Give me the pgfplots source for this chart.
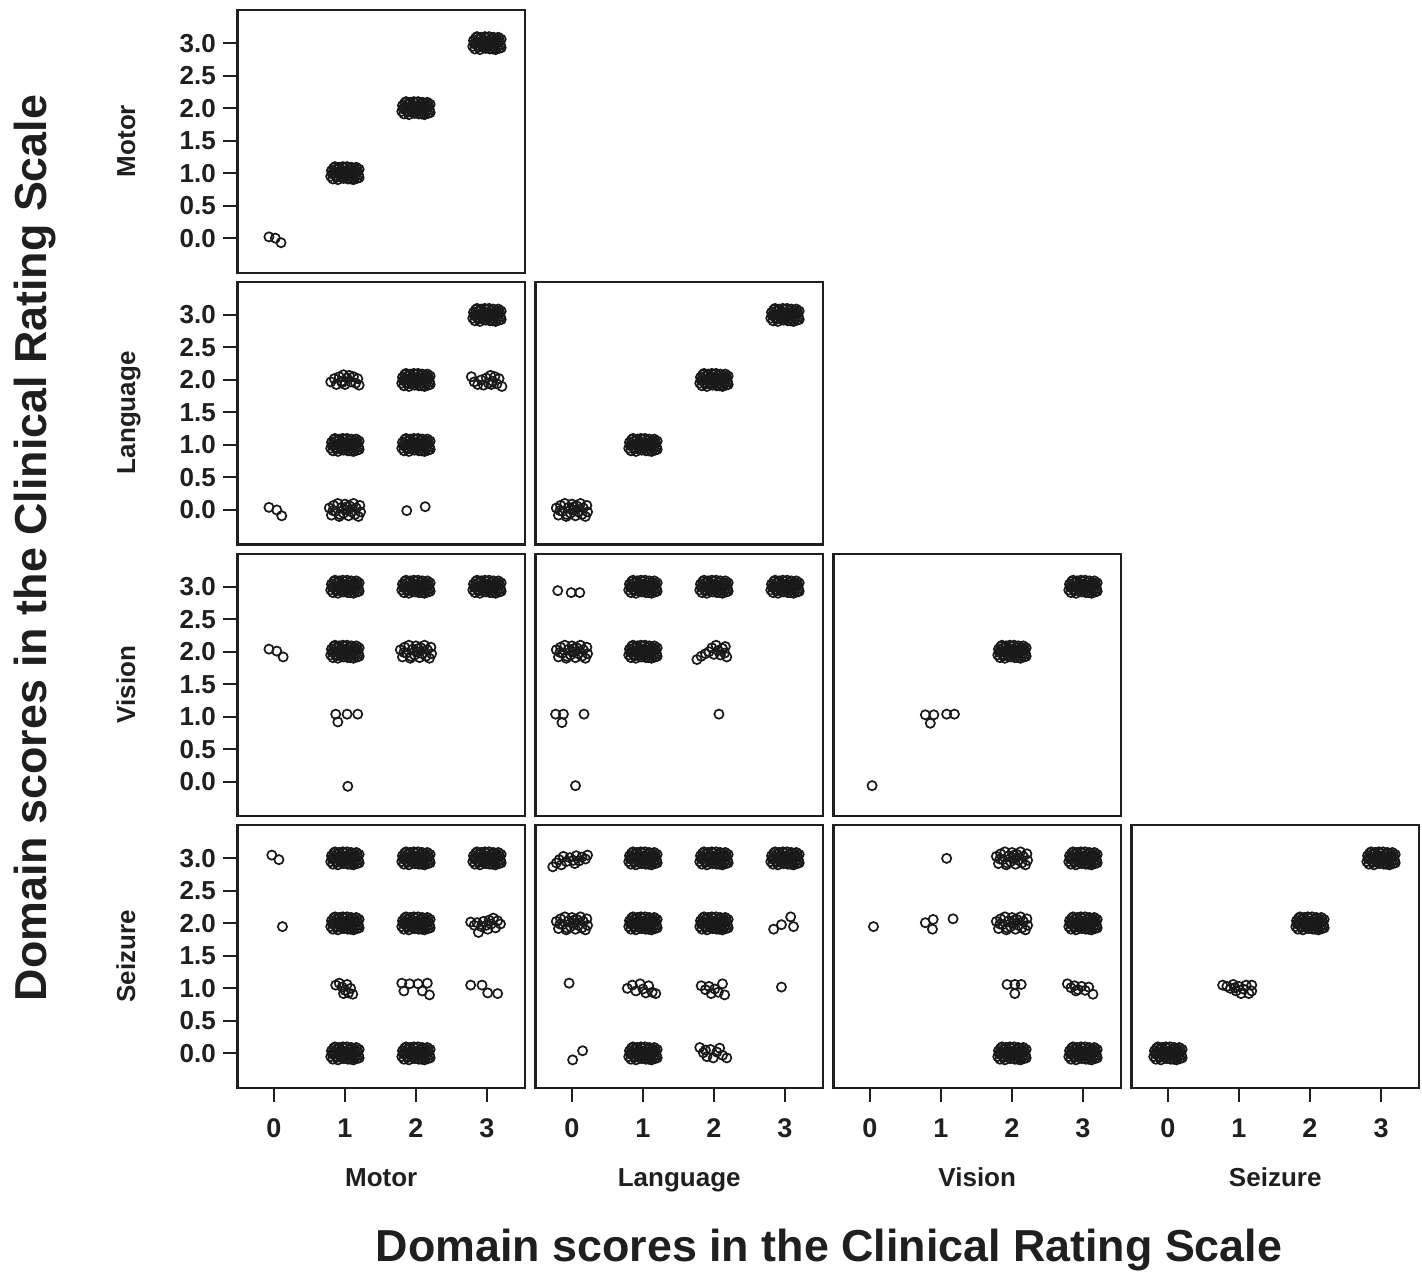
\documentclass[border=0pt]{standalone}
\usepackage{fontspec}
\setmainfont{Liberation Sans}
\usepackage{pgfplots}
\usepackage{pgfplotstable}
\pgfplotsset{compat=1.18}

% hand-typed jitter offsets for dense clusters (dx, dy in score units)
\pgfplotstableread{
dx dy
-0.20 -0.05
-0.19 0.04
-0.17 -0.09
-0.16 0.08
-0.15 0.00
-0.13 -0.04
-0.12 0.06
-0.10 -0.10
-0.09 0.02
-0.08 0.09
-0.06 -0.06
-0.05 0.05
-0.04 -0.01
-0.02 -0.08
-0.01 0.08
0.00 0.03
0.01 -0.04
0.03 0.10
0.04 -0.09
0.05 0.01
0.06 0.06
0.07 -0.05
0.09 0.09
0.10 -0.02
0.11 0.04
0.12 -0.10
0.13 0.07
0.14 -0.06
0.15 0.01
0.16 0.09
0.17 -0.08
0.18 0.03
0.19 -0.03
0.20 0.06
0.20 -0.07
-0.14 0.10
-0.03 0.10
-0.18 -0.01
0.08 -0.09
0.02 0.00
-0.11 -0.06
-0.07 0.03
0.12 0.02
0.06 -0.01
-0.01 -0.02
}\densetab
% medium clusters
\pgfplotstableread{
dx dy
-0.22 0.03
-0.19 -0.08
-0.16 0.07
-0.13 -0.02
-0.10 0.10
-0.08 -0.10
-0.05 0.04
-0.02 -0.05
0.00 0.09
0.02 0.00
0.05 -0.09
0.07 0.06
0.09 -0.03
0.12 0.10
0.14 -0.07
0.16 0.03
0.19 -0.10
0.21 0.07
0.22 -0.03
-0.17 -0.01
0.03 0.05
-0.07 -0.07
}\medtab

\pgfplotsset{
  panel/.style={scale only axis, width=143.7pt, height=131.3pt,
    xmin=-0.513, xmax=3.534, ymin=-0.53, ymax=3.51,
    anchor=north west,
    axis line style={line width=1.1pt, black!88},
    xtick=\empty, ytick=\empty,
    tick pos=left, tick align=outside,
    major tick length=7.3pt,
    tick style={line width=1pt, black!88},
    yticklabel style={font=\fontsize{13}{15}\selectfont\bfseries, text=black!88},
    xticklabel style={font=\fontsize{13.5}{15}\selectfont\bfseries, text=black!88, yshift=-4.5pt},
  },
  leftcol/.style={ytick={0,0.5,1,1.5,2,2.5,3},
    yticklabels={0.0,0.5,1.0,1.5,2.0,2.5,3.0}},
  bottomrow/.style={xtick={0,1,2,3}, xticklabels={0,1,2,3}},
  pt/.style={only marks, mark=o, mark size=2.3pt,
    mark options={line width=0.85pt, black!90}},
}
\newcommand{\D}[2]{\addplot[pt] table[x expr=\thisrow{dx}+#1, y expr=\thisrow{dy}+#2]{\densetab};}
\newcommand{\M}[2]{\addplot[pt] table[x expr=\thisrow{dx}+#1, y expr=\thisrow{dy}+#2]{\medtab};}

\begin{document}
\begin{tikzpicture}
\useasboundingbox (0,0) rectangle (711pt,-636pt);

% ---------- Row 1: Motor ----------
\begin{axis}[panel, leftcol, at={(118.75pt,-5pt)}]
\D{1}{1}\D{2}{2}\D{3}{3}
\addplot[pt] coordinates {(-0.07,0.02)(0.02,0.0)(0.10,-0.07)};
\end{axis}

% ---------- Row 2: Language ----------
\begin{axis}[panel, leftcol, at={(118.75pt,-140.9pt)}]
\D{1}{1}\M{1}{0}\D{2}{2}\D{2}{1}\D{3}{3}
\addplot[pt] coordinates {
(-0.07,0.04)(0.04,0.0)(0.11,-0.09)
(0.80,1.97)(0.85,2.02)(0.88,1.93)(0.92,2.05)(0.95,1.98)(0.98,2.08)(1.00,1.93)(1.03,2.03)
(1.06,2.07)(1.08,1.97)(1.12,2.05)(1.15,1.95)(1.18,2.02)(1.20,1.92)(0.96,1.96)
(1.87,-0.01)(2.13,0.05)
(2.78,2.05)(2.82,1.97)(2.87,1.93)(2.92,2.00)(2.95,1.92)(2.99,2.03)(3.02,1.95)(3.05,2.07)
(3.08,1.98)(3.11,2.05)(3.14,1.94)(3.17,2.02)(3.21,1.90)(3.06,1.93)};
\end{axis}
\begin{axis}[panel, at={(267.75pt,-140.9pt)}]
\M{0}{0}\D{1}{1}\D{2}{2}\D{3}{3}
\end{axis}

% ---------- Row 3: Vision ----------
\begin{axis}[panel, leftcol, at={(118.75pt,-276.8pt)}]
\D{1}{3}\D{1}{2}\D{2}{3}\M{2}{2}\D{3}{3}
\addplot[pt] coordinates {
(-0.07,2.04)(0.04,2.01)(0.13,1.92)
(0.87,1.04)(0.90,0.92)(1.03,1.04)(1.18,1.04)
(1.04,-0.07)};
\end{axis}
\begin{axis}[panel, at={(267.75pt,-276.8pt)}]
\M{0}{2}\D{1}{3}\D{1}{2}\D{2}{3}\D{3}{3}
\addplot[pt] coordinates {
(-0.20,2.94)(-0.01,2.91)(0.11,2.91)
(-0.23,1.04)(-0.12,1.04)(-0.14,0.91)(0.17,1.04)
(0.05,-0.06)
(1.76,1.88)(1.82,1.93)(1.88,1.97)(1.93,2.00)(1.97,2.06)(2.00,1.96)(2.03,2.10)(2.06,2.02)
(2.09,1.95)(2.12,2.05)(2.15,1.98)(2.18,1.92)(2.16,2.08)
(2.07,1.04)};
\end{axis}
\begin{axis}[panel, at={(416.75pt,-276.8pt)}]
\D{2}{2}\D{3}{3}
\addplot[pt] coordinates {
(0.03,-0.06)
(0.78,1.03)(0.90,1.03)(0.85,0.90)(1.08,1.04)(1.19,1.04)};
\end{axis}

% ---------- Row 4: Seizure ----------
\begin{axis}[panel, leftcol, bottomrow, at={(118.75pt,-412.6pt)}]
\D{1}{3}\D{1}{2}\D{1}{0}\D{2}{3}\D{2}{2}\D{2}{0}\D{3}{3}
\addplot[pt] coordinates {
(-0.03,3.05)(0.07,2.98)
(0.12,1.95)
(0.87,1.05)(0.92,1.08)(0.96,1.02)(1.00,0.97)(1.03,1.06)(1.05,0.93)(1.08,1.00)(1.11,0.91)(0.98,0.92)
(1.80,1.08)(1.91,1.07)(1.83,0.96)(2.03,1.07)(2.09,0.96)(2.16,1.08)(2.19,0.90)
(2.77,2.02)(2.82,1.97)(2.86,2.01)(2.88,1.86)(2.92,1.95)(2.95,2.03)(2.99,1.97)(3.03,2.05)
(3.06,1.99)(3.09,2.08)(3.12,1.93)(3.15,2.04)(3.19,1.99)(3.01,1.91)
(2.77,1.05)(2.93,1.05)(3.01,0.93)(3.15,0.92)};
\end{axis}
\begin{axis}[panel, bottomrow, at={(267.75pt,-412.6pt)}]
\M{0}{2}\D{1}{3}\D{1}{2}\D{1}{0}\D{2}{3}\D{2}{2}\D{3}{3}
\addplot[pt] coordinates {
(-0.27,2.87)(-0.22,2.93)(-0.18,2.98)(-0.12,3.03)(-0.08,2.95)(-0.03,3.01)(0.02,2.97)
(0.06,3.04)(0.10,2.96)(0.14,3.02)(0.19,2.99)(0.22,3.05)(-0.15,2.90)(0.04,2.92)
(-0.04,1.08)
(0.01,-0.10)(0.15,0.04)
(0.78,1.00)(0.85,1.05)(0.90,0.96)(0.96,1.07)(1.00,0.99)(1.04,0.93)(1.08,1.04)(1.13,0.94)(1.18,0.92)
(1.82,1.04)(1.88,0.98)(1.93,1.03)(1.96,0.92)(2.01,0.99)(2.06,0.94)(2.12,1.07)(2.15,0.90)
(1.80,0.09)(1.85,0.01)(1.90,-0.05)(1.95,0.06)(1.99,-0.07)(2.04,0.02)(2.08,0.08)(2.12,-0.03)(2.18,-0.07)(1.88,0.05)
(2.84,1.91)(2.95,1.98)(3.08,2.10)(3.12,1.95)
(2.95,1.02)};
\end{axis}
\begin{axis}[panel, bottomrow, at={(416.75pt,-412.6pt)}]
\M{2}{3}\M{2}{2}\D{2}{0}\D{3}{3}\D{3}{2}\D{3}{0}
\addplot[pt] coordinates {
(0.05,1.95)
(1.08,3.00)
(0.78,2.01)(0.89,2.06)(0.88,1.91)(1.17,2.07)
(1.93,1.06)(2.04,1.06)(2.13,1.06)(2.04,0.92)
(2.78,1.07)(2.83,1.01)(2.88,1.04)(2.93,0.98)(2.98,1.03)(3.03,0.97)(3.08,1.02)(3.14,0.91)(2.90,0.96)};
\end{axis}
\begin{axis}[panel, bottomrow, at={(565.75pt,-412.6pt)}]
\D{0}{0}\D{2}{2}\D{3}{3}
\addplot[pt] coordinates {
(0.77,1.05)(0.83,1.03)(0.88,1.00)(0.92,1.06)(0.96,0.96)(1.00,1.03)(1.03,0.92)(1.06,0.99)
(1.10,1.05)(1.14,0.92)(1.18,1.05)(1.18,0.96)(0.94,1.01)};
\end{axis}

% ---------- labels ----------
\begin{scope}[every node/.style={font=\fontsize{13}{15}\selectfont\bfseries, text=black!88, anchor=base, inner sep=0pt}]
\node[rotate=90] at (67.5pt,-70.5pt) {Motor};
\node[rotate=90] at (67.5pt,-206.4pt) {Language};
\node[rotate=90] at (67.5pt,-342.3pt) {Vision};
\node[rotate=90] at (67.5pt,-478.2pt) {Seizure};
\node at (190.6pt,-593pt) {Motor};
\node at (339.6pt,-593pt) {Language};
\node at (488.6pt,-593pt) {Vision};
\node at (637.6pt,-593pt) {Seizure};
\end{scope}
\node[font=\fontsize{22.4}{26}\selectfont\bfseries, text=black!88, anchor=base, inner sep=0pt] at (414.5pt,-630.5pt) {Domain scores in the Clinical Rating Scale};
\node[rotate=90, font=\fontsize{22.4}{26}\selectfont\bfseries, text=black!88, anchor=base, inner sep=0pt] at (23pt,-274pt) {Domain scores in the Clinical Rating Scale};
\end{tikzpicture}
\end{document}
